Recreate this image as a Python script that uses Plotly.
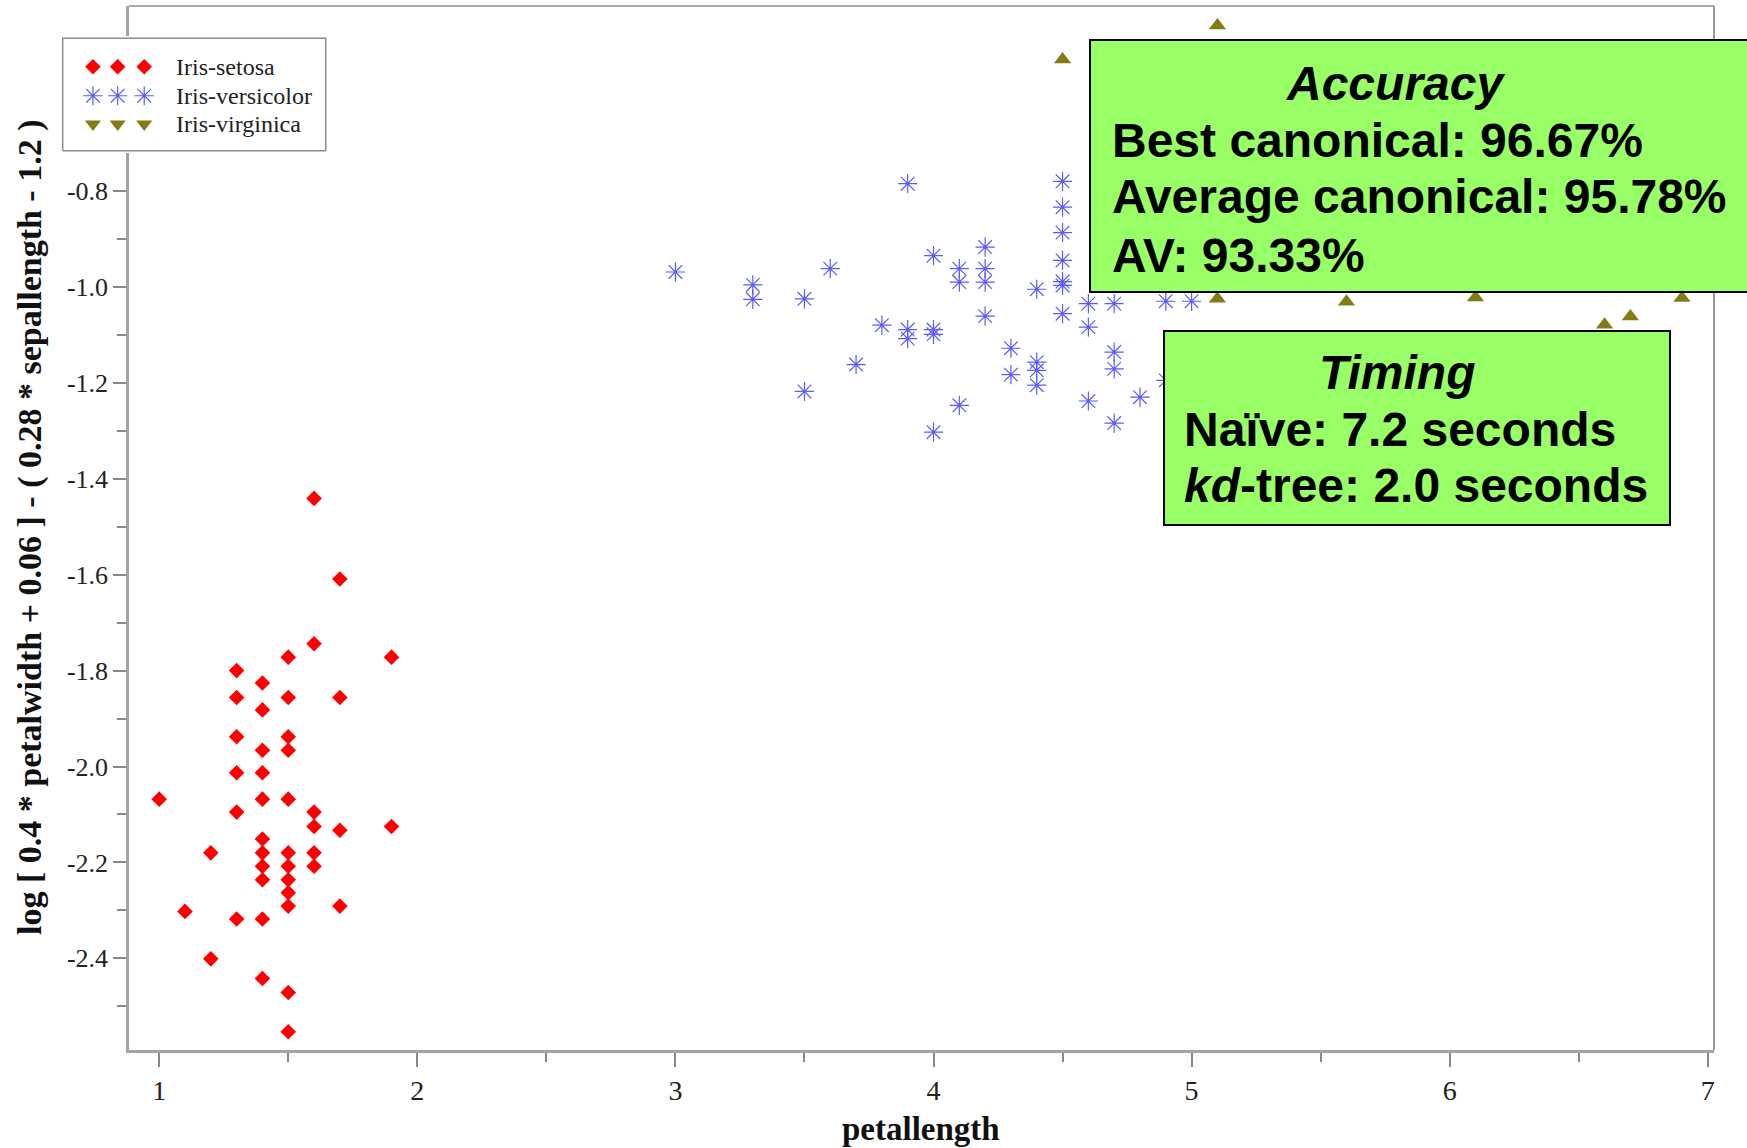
import plotly.graph_objects as go

W, H = 1747, 1148

# ---------------- data ----------------
setosa_x = [1.0, 1.1, 1.2, 1.2,
            1.3, 1.3, 1.3, 1.3, 1.3, 1.3,
            1.4, 1.4, 1.4, 1.4, 1.4, 1.4, 1.4, 1.4, 1.4, 1.4, 1.4,
            1.5, 1.5, 1.5, 1.5, 1.5, 1.5, 1.5, 1.5, 1.5, 1.5, 1.5, 1.5,
            1.6, 1.6, 1.6, 1.6, 1.6, 1.6,
            1.7, 1.7, 1.7, 1.7,
            1.9, 1.9]
setosa_y = [-2.068, -2.302, -2.180, -2.401,
            -1.800, -1.856, -1.938, -2.013, -2.095, -2.318,
            -1.826, -1.882, -1.966, -2.013, -2.068, -2.151, -2.180, -2.208, -2.236, -2.318, -2.442,
            -1.772, -1.856, -1.938, -1.966, -2.068, -2.180, -2.208, -2.236, -2.263, -2.291, -2.471, -2.553,
            -1.441, -1.744, -2.095, -2.125, -2.180, -2.208,
            -1.609, -1.856, -2.133, -2.291,
            -1.772, -2.125]

versicolor_x = [3.0, 3.3, 3.3, 3.5, 3.5, 3.6, 3.7, 3.8,
                3.9, 3.9, 3.9,
                4.0, 4.0, 4.0, 4.0,
                4.1, 4.1, 4.1,
                4.2, 4.2, 4.2, 4.2,
                4.3, 4.3,
                4.4, 4.4, 4.4, 4.4,
                4.5, 4.5, 4.5, 4.5, 4.5, 4.5, 4.5,
                4.6, 4.6, 4.6,
                4.7, 4.7, 4.7, 4.7,
                4.8, 4.9, 4.9, 5.0]
versicolor_y = [-0.969, -0.996, -1.026, -1.025, -1.218, -0.962, -1.162, -1.080,
                -0.785, -1.089, -1.108,
                -0.935, -1.089, -1.099, -1.303,
                -0.962, -0.990, -1.247,
                -0.917, -0.962, -0.990, -1.061,
                -1.128, -1.183,
                -1.005, -1.157, -1.174, -1.205,
                -0.780, -0.834, -0.887, -0.945, -0.989, -0.997, -1.056,
                -1.035, -1.084, -1.238,
                -1.035, -1.136, -1.171, -1.284,
                -1.230, -1.030, -1.195, -1.030]

virginica_x = [4.5, 5.1, 5.1, 5.6, 6.1, 6.6, 6.7, 6.9]
virginica_y = [-0.526, -0.455, -1.025, -1.031, -1.022, -1.079, -1.062, -1.023]

species = ["Iris-setosa", "Iris-versicolor", "Iris-virginica"]

x_ticks = [1, 2, 3, 4, 5, 6, 7]
y_ticks = [-0.8, -1.0, -1.2, -1.4, -1.6, -1.8, -2.0, -2.2, -2.4]

x_title = "petallength"
y_title = "log [ 0.4 * petalwidth + 0.06 ] - ( 0.28 * sepallength - 1.2 )"

acc_title = "Accuracy"
acc_lines = ["Best canonical: 96.67%", "Average canonical: 95.78%", "AV: 93.33%"]
tim_title = "Timing"
tim_lines = ["Naïve: 7.2 seconds", "<i>kd</i>-tree: 2.0 seconds"]

# ---------------- styles ----------------
RED = "#ff0000"
BLUE = "#5a5aff"
OLIVE = "#837c12"
GREEN = "#99ff66"
AXIS_GRAY = "#a3a3a3"
SERIF = "Liberation Serif"
SANS = "Liberation Sans"

setosa_marker = dict(symbol="diamond", size=12, color=RED, line=dict(width=0))
versi_marker = dict(symbol="asterisk-open", size=16, color=BLUE, line=dict(width=1.2, color=BLUE))
virg_marker = dict(symbol="triangle-up", size=15, color=OLIVE, line=dict(width=0))
virg_legend_marker = dict(symbol="triangle-down", size=14, color=OLIVE, line=dict(width=0))

# plot area in pixels
PL, PR, PT, PB = 129, 1714, 6, 1050


def px(x):
    return x / W


def py(y):
    return 1 - y / H


fig = go.Figure()

fig.add_trace(go.Scatter(x=setosa_x, y=setosa_y, mode="markers", name=species[0],
                         marker=setosa_marker, showlegend=False, cliponaxis=False))
fig.add_trace(go.Scatter(x=versicolor_x, y=versicolor_y, mode="markers", name=species[1],
                         marker=versi_marker, showlegend=False, cliponaxis=False))
fig.add_trace(go.Scatter(x=virginica_x, y=virginica_y, mode="markers", name=species[2],
                         marker=virg_marker, showlegend=False, cliponaxis=False))

# ---------------- custom legend on an auxiliary axis ----------------
LX0, LX1, LY0, LY1 = 62.7, 325.7, 38.3, 150.7
lw, lh = LX1 - LX0, LY1 - LY0
pad = 0.02
fig.add_trace(go.Scatter(x=[0, 1, 1, 0, 0], y=[0, 0, 1, 1, 0], mode="lines",
                         fill="toself", fillcolor="white",
                         line=dict(color="#8c8c8c", width=1.5),
                         xaxis="x2", yaxis="y2", showlegend=False, hoverinfo="skip"))
sample_x = [0.115, 0.209, 0.310]
rows = [0.747, 0.489, 0.238]
for row, mk in zip(rows, [setosa_marker, versi_marker, virg_legend_marker]):
    fig.add_trace(go.Scatter(x=sample_x, y=[row] * 3, mode="markers", marker=mk,
                             xaxis="x2", yaxis="y2", showlegend=False, hoverinfo="skip"))

annotations = []
for row, name in zip(rows, species):
    annotations.append(dict(x=0.425, y=row, xref="x2", yref="y2", text=name, showarrow=False,
                            xanchor="left", yanchor="middle",
                            font=dict(family=SERIF, size=24, color="#222222")))

# axis titles
annotations.append(dict(x=px(30), y=py(527), xref="paper", yref="paper", text="<b>" + y_title + "</b>",
                        textangle=-90, showarrow=False, xanchor="center", yanchor="middle",
                        font=dict(family=SERIF, size=34, color="#111111")))
annotations.append(dict(x=px((PL + PR) / 2), y=py(1129), xref="paper", yref="paper",
                        text="<b>" + x_title + "</b>", showarrow=False, xanchor="center", yanchor="middle",
                        font=dict(family=SERIF, size=33, color="#111111")))

# boxes text
box_font = dict(family=SANS, size=48, color="black")
annotations.append(dict(x=px(1395), y=py(84), xref="paper", yref="paper",
                        text="<b><i>" + acc_title + "</i></b>", showarrow=False,
                        xanchor="center", yanchor="middle", font=box_font))
for yy, t in zip([140, 197, 255], acc_lines):
    annotations.append(dict(x=px(1110), y=py(yy), xref="paper", yref="paper",
                            text="<b>" + t + "</b>", showarrow=False,
                            xanchor="left", yanchor="middle", font=box_font))
annotations.append(dict(x=px(1397), y=py(372), xref="paper", yref="paper",
                        text="<b><i>" + tim_title + "</i></b>", showarrow=False,
                        xanchor="center", yanchor="middle", font=box_font))
for yy, t in zip([429, 486], tim_lines):
    annotations.append(dict(x=px(1182), y=py(yy), xref="paper", yref="paper",
                            text="<b>" + t + "</b>", showarrow=False,
                            xanchor="left", yanchor="middle", font=box_font))

shapes = [
    # top and right frame lines
    dict(type="line", xref="paper", yref="paper", x0=px(PL), x1=px(PR), y0=py(PT), y1=py(PT),
         line=dict(color="#555555", width=1.2), layer="above"),
    dict(type="line", xref="paper", yref="paper", x0=px(PR), x1=px(PR), y0=py(PT), y1=py(PB),
         line=dict(color="#555555", width=1.2), layer="above"),
    # Accuracy box
    dict(type="rect", xref="paper", yref="paper", x0=px(1090), x1=px(1752), y0=py(40), y1=py(292),
         fillcolor=GREEN, line=dict(color="black", width=2), layer="above"),
    # Timing box
    dict(type="rect", xref="paper", yref="paper", x0=px(1164), x1=px(1670), y0=py(331), y1=py(525),
         fillcolor=GREEN, line=dict(color="black", width=2), layer="above"),
]

fig.update_layout(
    width=W, height=H,
    margin=dict(l=0, r=0, t=0, b=0),
    paper_bgcolor="white", plot_bgcolor="white",
    showlegend=False,
    xaxis=dict(domain=[px(PL), px(PR)], range=[0.883, 7.024], anchor="y",
               tickmode="array", tickvals=x_ticks, ticktext=[str(v) for v in x_ticks],
               ticks="outside", ticklen=14, tickwidth=1.5, tickcolor="#888888",
               minor=dict(dtick=0.5, tick0=0.5, ticks="outside", ticklen=9, tickwidth=1.5, tickcolor="#888888"),
               showline=True, linecolor=AXIS_GRAY, linewidth=2.5,
               showgrid=False, zeroline=False,
               tickfont=dict(family=SERIF, size=28, color="#222222")),
    yaxis=dict(domain=[py(PB), py(PT)], range=[-2.591, -0.4145], anchor="x",
               tickmode="array", tickvals=y_ticks, ticktext=["%.1f" % v for v in y_ticks],
               ticks="outside", ticklen=13, tickwidth=1.5, tickcolor="#888888",
               minor=dict(dtick=0.1, tick0=0, ticks="outside", ticklen=9, tickwidth=1.5, tickcolor="#888888"),
               showline=True, linecolor=AXIS_GRAY, linewidth=2.5,
               showgrid=False, zeroline=False,
               tickfont=dict(family=SERIF, size=26, color="#222222")),
    xaxis2=dict(domain=[px(LX0 - pad * lw), px(LX1 + pad * lw)], range=[-pad, 1 + pad],
                anchor="y2", visible=False, fixedrange=True),
    yaxis2=dict(domain=[py(LY1 + pad * lh), py(LY0 - pad * lh)], range=[-pad, 1 + pad],
                anchor="x2", visible=False, fixedrange=True),
    shapes=shapes,
    annotations=annotations,
)

fig.write_html("out.html")
